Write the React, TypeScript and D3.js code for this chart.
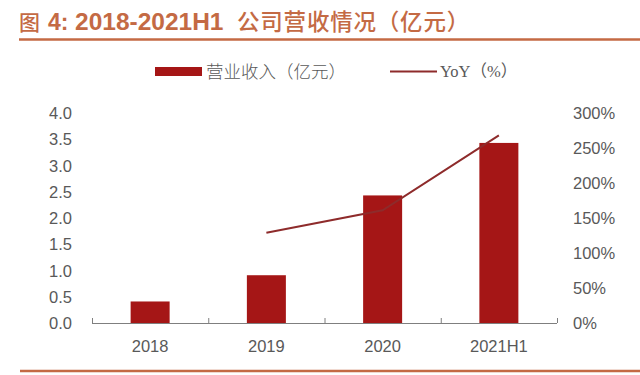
import React from "react";
import * as d3 from "d3";

const categories = ["2018", "2019", "2020", "2021H1"];
const revenue = [0.41, 0.91, 2.43, 3.43];
const yoyCategories = ["2019", "2020", "2021H1"];
const yoy = [129, 161, 268];
const leftTicks = [0, 0.5, 1, 1.5, 2, 2.5, 3, 3.5, 4];
const rightTicks = [0, 50, 100, 150, 200, 250, 300];
const titleHead = "图";
const titleFig = "4:";
const titleNum = "2018-2021H1";
const titleTail = "公司营收情况（亿元）";
const legendBar = "营业收入（亿元）";
const legendLine = "YoY（%）";

const W = 640;
const H = 375;
const plotLeft = 92;
const plotRight = 557;
const plotTop = 113;
const plotBottom = 323;
const barColor = "#a51616";
const lineColor = "#8e2b2b";
const accent = "#c46a44";
const textColor = "#595959";

export default function App() {
  const band = d3.scaleBand<string>().domain(categories).range([plotLeft, plotRight]);
  const yL = d3.scaleLinear().domain([0, 4]).range([plotBottom, plotTop]);
  const yR = d3.scaleLinear().domain([0, 300]).range([plotBottom, plotTop]);
  const line = d3
    .line<number>()
    .x((_, i) => (band(yoyCategories[i]) as number) + band.bandwidth() / 2)
    .y((d) => yR(d));
  const tickXs = [...categories.map((c) => band(c) as number), plotRight];

  return (
    <svg
      width={W}
      height={H}
      style={{ position: "fixed", left: 0, top: 0, background: "#fff" }}
      fontFamily="'Liberation Sans', Arial, sans-serif"
    >
      <text y={30} fill={accent}>
        <tspan x={19} fontSize={21} fontFamily="'Noto Sans CJK SC', sans-serif" fontWeight="500">{titleHead}</tspan>
        <tspan x={48} fontSize={23} fontWeight="bold">{titleFig}</tspan>
        <tspan x={75} fontSize={24.5} fontWeight="bold">{titleNum}</tspan>
        <tspan x={237} fontSize={22.5} fontFamily="'Noto Sans CJK SC', sans-serif" fontWeight="500" letterSpacing={0.8}>{titleTail}</tspan>
      </text>
      <line x1={19} x2={640} y1={39.5} y2={39.5} stroke={accent} strokeWidth={2.5} />

      {/* legend */}
      <rect x={155} y={67} width={47} height={9} fill={barColor} />
      <text x={206} y={77.5} fontSize={17.5} fill={textColor} fontFamily="'Noto Sans CJK SC', sans-serif" fontWeight="300">
        {legendBar}
      </text>
      <line x1={390} x2={437} y1={71.5} y2={71.5} stroke={lineColor} strokeWidth={2} />
      <text x={440} y={77} fontSize={16.5} fill={textColor} fontFamily="'Liberation Serif', 'Noto Sans CJK SC', serif">
        {legendLine}
      </text>

      {/* bars */}
      {categories.map((c, i) => (
        <rect
          key={c}
          x={(band(c) as number) + band.bandwidth() / 2 - 19.5}
          width={39}
          y={yL(revenue[i])}
          height={plotBottom - yL(revenue[i])}
          fill={barColor}
        />
      ))}

      {/* x axis */}
      <line x1={plotLeft} x2={plotRight} y1={plotBottom + 0.5} y2={plotBottom + 0.5} stroke="#7f7f7f" strokeWidth={1} />
      {tickXs.map((tx, i) => (
        <line key={i} x1={tx + 0.5} x2={tx + 0.5} y1={plotBottom} y2={plotBottom - 5} stroke="#7f7f7f" strokeWidth={1} />
      ))}
      {categories.map((c) => (
        <text key={c} x={(band(c) as number) + band.bandwidth() / 2} y={352} textAnchor="middle" fontSize={16.5} fill={textColor}>
          {c}
        </text>
      ))}

      {/* line */}
      <path d={line(yoy) || ""} fill="none" stroke={lineColor} strokeWidth={2} />

      {/* left axis labels */}
      {leftTicks.map((t) => (
        <text key={t} x={72} y={yL(t) + 6} textAnchor="end" fontSize={16.5} fill={textColor}>
          {d3.format(".1f")(t)}
        </text>
      ))}
      {/* right axis labels */}
      {rightTicks.map((t) => (
        <text key={t} x={573} y={yR(t) + 6} textAnchor="start" fontSize={16.5} fill={textColor}>
          {t + "%"}
        </text>
      ))}

      <line x1={20} x2={640} y1={371} y2={371} stroke={accent} strokeWidth={2.5} />
    </svg>
  );
}
